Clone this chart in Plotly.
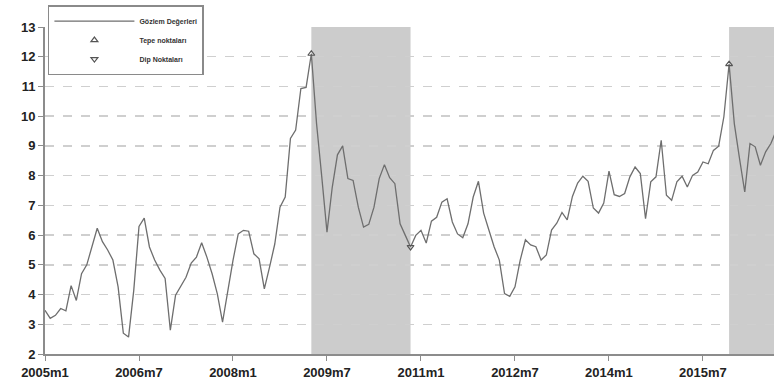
import plotly.graph_objects as go

# ---- data -------------------------------------------------------------
values = [
    3.47, 3.20, 3.30, 3.53, 3.45, 4.30, 3.80, 4.70, 5.00, 5.60, 6.23, 5.78,
    5.50, 5.16, 4.26, 2.70, 2.57, 4.15, 6.29, 6.57, 5.60, 5.16, 4.82, 4.54,
    2.80, 3.98, 4.26, 4.58, 5.06, 5.26, 5.74, 5.26, 4.70, 4.02, 3.07, 4.13,
    5.15, 6.04, 6.16, 6.13, 5.37, 5.20, 4.19, 4.92, 5.70, 6.94, 7.28, 9.25,
    9.53, 10.93, 10.97, 12.10, 9.75, 7.96, 6.10, 7.60, 8.70, 9.00, 7.90, 7.84,
    6.94, 6.27, 6.36, 6.94, 7.90, 8.37, 7.93, 7.73, 6.38, 5.99, 5.60, 5.99,
    6.16, 5.73, 6.47, 6.60, 7.11, 7.22, 6.44, 6.04, 5.91, 6.38, 7.28, 7.81,
    6.74, 6.17, 5.61, 5.16, 4.03, 3.94, 4.26, 5.16, 5.84, 5.67, 5.61, 5.16,
    5.33, 6.17, 6.40, 6.76, 6.51, 7.30, 7.75, 7.98, 7.81, 6.91, 6.74, 7.08,
    8.15, 7.36, 7.30, 7.40, 7.96, 8.29, 8.07, 6.55, 7.79, 7.96, 9.19, 7.34,
    7.17, 7.79, 7.98, 7.62, 8.01, 8.12, 8.46, 8.40, 8.85, 8.99, 9.98, 11.75,
    9.75, 8.57, 7.45, 9.08, 8.97, 8.35, 8.80, 9.08, 9.50,
]
start_year = 2005
months = [f"{start_year + i // 12}m{i % 12 + 1}" for i in range(len(values))]

peaks = ["2009m4", "2015m12"]          # Tepe noktaları
troughs = ["2010m11"]                  # Dip noktaları
tick_labels = ["2005m1", "2006m7", "2008m1", "2009m7",
               "2011m1", "2012m7", "2014m1", "2015m7"]
y_ticks = list(range(2, 14))

# ---- figure -----------------------------------------------------------
idx = {m: i for i, m in enumerate(months)}
fig = go.Figure()

fig.add_trace(go.Scatter(
    x=months, y=values, mode="lines", name="Gözlem Değerleri",
    line=dict(color="#6e6e6e", width=1.3), legendgroup="a",
))
fig.add_trace(go.Scatter(
    x=peaks, y=[values[idx[p]] for p in peaks], mode="markers",
    name="Tepe noktaları", legendgroup="b",
    marker=dict(symbol="triangle-up-open", size=6, color="#555555",
                line=dict(width=1.2)),
))
fig.add_trace(go.Scatter(
    x=troughs, y=[values[idx[t]] for t in troughs], mode="markers",
    name="Dip Noktaları", legendgroup="c",
    marker=dict(symbol="triangle-down-open", size=6, color="#555555",
                line=dict(width=1.2)),
))

# recession shading: peak -> trough, last peak -> end
spans = [(idx[peaks[0]], idx[troughs[0]]), (idx[peaks[1]], len(months) + 5)]
for a, b in spans:
    fig.add_shape(type="rect", xref="x", yref="paper", x0=a, x1=b, y0=0, y1=1,
                  fillcolor="#cccccc", line=dict(width=0), layer="between")

axis_font = dict(family="Liberation Sans, Arial", size=13, color="#222222",
                 weight="bold")

fig.update_layout(
    width=774, height=388,
    margin=dict(l=45, r=0, t=27, b=34),
    paper_bgcolor="white", plot_bgcolor="white",
    showlegend=True,
    legend=dict(
        x=0.004, y=1.067, xanchor="left", yanchor="top",
        bgcolor="white", bordercolor="#8a8a8a", borderwidth=1.5,
        font=dict(family="Liberation Sans, Arial", size=7, color="#333333",
                  weight="bold"),
        itemwidth=80, tracegroupgap=0,
    ),
    xaxis=dict(
        type="category", range=[0, 139.6],
        tickvals=tick_labels, ticktext=tick_labels,
        showgrid=False, zeroline=False,
        showline=True, linecolor="#8c8c8c", linewidth=2,
        ticks="outside", ticklen=5, tickcolor="#8c8c8c", tickwidth=1,
        tickfont=axis_font,
    ),
    yaxis=dict(
        range=[2, 13], tickvals=y_ticks,
        showgrid=True, gridcolor="#cfcfcf", gridwidth=1.5, griddash="dash",
        zeroline=False,
        showline=True, linecolor="#8c8c8c", linewidth=2,
        ticks="outside", ticklen=5, tickcolor="#8c8c8c", tickwidth=1,
        tickfont=axis_font,
    ),
)

fig.write_html(
    "out.html",
    config={"displayModeBar": False, "staticPlot": True},
    post_script="document.body.style.margin='0';document.body.style.overflow='hidden';",
)
